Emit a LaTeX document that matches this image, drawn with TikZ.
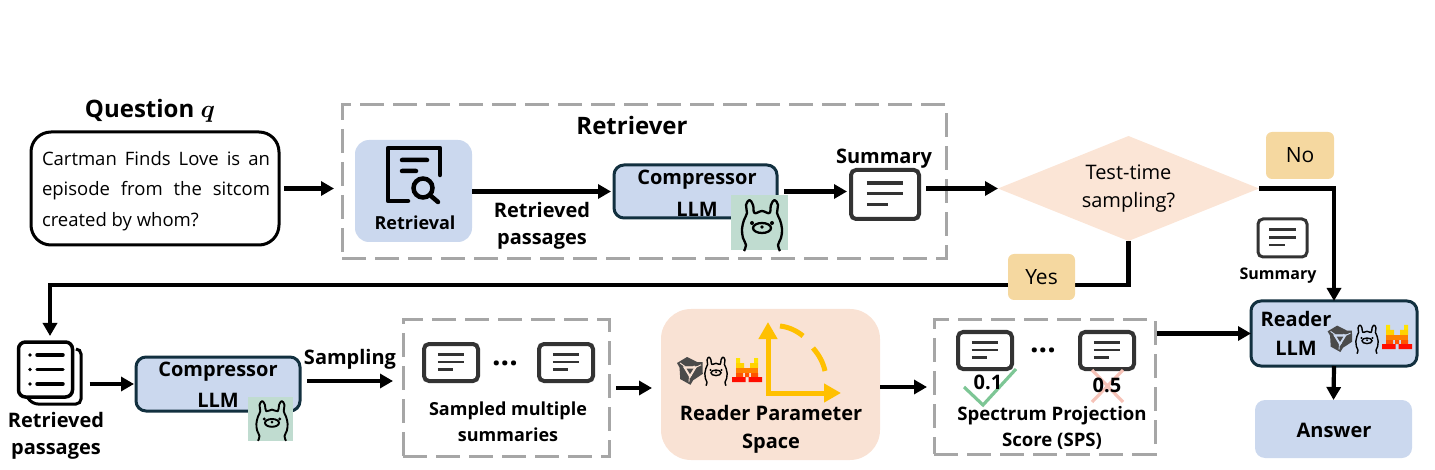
\documentclass[tikz,border=0pt]{standalone}
\usepackage{fontspec}
\setmainfont{Open Sans}
\usetikzlibrary{arrows.meta,shapes.geometric}
\definecolor{bluefill}{HTML}{CBD8EE}
\definecolor{navy}{HTML}{12303F}
\definecolor{dashgray}{HTML}{A6A6A6}
\definecolor{peach}{HTML}{FBE5D6}
\definecolor{spacefill}{HTML}{F9E2D4}
\definecolor{tagfill}{HTML}{F5D8A0}
\definecolor{tilefill}{HTML}{C0DCD0}
\definecolor{axisgold}{HTML}{FFC000}
\definecolor{docgray}{HTML}{333333}
\definecolor{okgreen}{HTML}{7DC695}
\definecolor{nored}{HTML}{F6C3B8}
\definecolor{logogray}{HTML}{4A4A4A}
\tikzset{
  x=1pt,y=-1pt,
  sized/.style 2 args={minimum width=#1pt,minimum height=#2pt,inner sep=0pt,outer sep=0pt},
  arr/.style={line width=4.2pt,draw=black,-{Triangle[length=13pt,width=14pt]}},
  dashbox/.style={draw=dashgray,line width=3pt,dash pattern=on 24pt off 9pt},
  llmbox/.style={draw=navy,line width=3pt,fill=bluefill,rounded corners=10pt},
  softbox/.style={fill=bluefill,rounded corners=14pt},
  tagbox/.style={fill=tagfill,rounded corners=6pt,font=\fontsize{21}{24}\selectfont},
  docbox/.style={draw=docgray,fill=white,line width=4pt,rounded corners=5pt},
  tile/.style={fill=tilefill},
  lab/.style={font=\fontsize{20}{24}\selectfont\bfseries,inner sep=0pt,align=center},
  llamaline/.style={line width=2.3pt},
  llama/.pic={
    \draw[black,llamaline,line join=round]
      plot[smooth,tension=.65] coordinates {(-18,28)(-16,22)(-19,15)(-20,6)(-18,-3)(-15,-10)(-16,-18)(-12.5,-23)(-9,-18)(-7.5,-10)(0,-12)(7.5,-10)(9,-18)(12.5,-23)(16,-18)(15,-10)(18,-3)(20,6)(19,15)(16,22)(18,28)};
    \draw[black,llamaline] (0,5) ellipse (9pt and 5pt);
    \fill (-10,0) circle (2pt) (10,0) circle (2pt) (0,4) circle (1.8pt);
  },
  logocut/.style={spacefill},
  trilogo/.pic={
    \foreach \ang in {0,120,240}{
      \fill[logogray,rotate=\ang] (-13,-7)--(-3,-13)--(7,-8)--(3,-3.5)--(-5,-3.5)--(-8,2)--cycle;
      \draw[logocut,line width=.9pt,rotate=\ang] (-5,-3.5)--(-10,-7);
    }
    \draw[logocut,line width=1.4pt,line join=miter] (-6,-3)--(6,-3)--(0,7)--cycle;
    \fill[logogray] (-3.5,-1.5)--(3.5,-1.5)--(0,4.2)--cycle;
  },
  mistral/.pic={
    \fill[yellow!85!orange] (-11,-12) rectangle (-7,-7) (7,-12) rectangle (11,-7);
    \fill[orange!35!yellow] (-11,-7) rectangle (-3,-2) (3,-7) rectangle (11,-2);
    \fill[orange] (-11,-2) rectangle (11,3);
    \fill[orange!65!red] (-11,3) rectangle (-4,7) (-2,3) rectangle (2,7) (4,3) rectangle (11,7);
    \fill[red!90!orange] (-15,7) rectangle (-1.5,12) (1.5,7) rectangle (15,12);
  },
}
\newcommand{\doclines}[3]{%
  \draw[docgray,line width=#2pt,shift={(#1.center)},scale=#3]
    (-11,-7)--(11,-7) (-11,-.5)--(11,-.5) (-11,6)--(2,6);}
\begin{document}
\begin{tikzpicture}
\useasboundingbox (0,0) rectangle (1435,470);
% ---- top row
\node[lab,font=\fontsize{24}{28}\selectfont\bfseries] (qtitle) at (150,111) {Question {\boldmath$q$}};
\node[sized={248}{113},draw=black,line width=3pt,rounded corners=20pt] (qbox) at (155,188.5) {};
\node[inner sep=0pt,align=left,font=\fontsize{18.5}{30.5}\selectfont] (qtext) at (156,191) {\makebox[228pt][s]{Cartman Finds Love is an}\\\makebox[228pt][s]{episode from the sitcom}\\\makebox[228pt][l]{created by whom?}};
\node[dashbox,sized={604}{154}] (rbox) at (644,182) {};
\node[lab,font=\fontsize{24}{28}\selectfont\bfseries] (rtitle) at (632,126) {Retriever};
\node[softbox,sized={117}{102}] (retrieval) at (413.5,191) {};
\draw[black,line width=4.5pt,line cap=round,line join=round] (440,175)--(440,148)--(388,148)--(388,201)--(408,201);
\draw[black,line width=4.5pt,line cap=round] (402,160)--(427,160) (402,171)--(416,171) (431,196)--(438,202);
\draw[black,line width=4.5pt] (423,188) circle (9.5pt);
\node[lab,font=\fontsize{18}{22}\selectfont\bfseries] (retrlab) at (415,223) {Retrieval};
\node[llmbox,sized={163}{53}] (comp1) at (695.5,191.5) {};
\node[lab] (comp1a) at (697,180) {Compressor};
\node[lab] (comp1b) at (697,209) {LLM};
\node[tile,sized={57}{55}] (tile1) at (759.5,222.5) {};
\pic at (762,223) {llama};
\node[lab] (passlab) at (542,226) {Retrieved\\[3pt]passages};
\node[lab] (sumlab) at (884,159) {Summary};
\node[docbox,sized={68}{49}] (doc1) at (885,194.5) {};
\doclines{doc1}{3.6}{1.65}
\node[diamond,aspect=2.48,fill=peach,sized={261}{105},align=center,font=\fontsize{20}{28}\selectfont] (dec) at (1128.5,188.5) {Test-time\\sampling?};
\node[tagbox,sized={68}{47}] (notag) at (1300,155.5) {No};
\node[docbox,sized={49}{38},line width=3pt] (doc2) at (1282.5,238) {};
\doclines{doc2}{2.4}{1.2}
\node[lab,font=\fontsize{16}{20}\selectfont\bfseries] (sumlab2) at (1278,276) {Summary};
% ---- reader + answer
\node[llmbox,sized={166}{65}] (reader) at (1334,333.5) {};
\node[lab] (readera) at (1296,319) {Reader};
\node[lab] (readerb) at (1296,348) {LLM};
\pic[scale=.95,logocut/.style={bluefill}] at (1340,338) {trilogo};
\pic[scale=.56,llamaline/.style={line width=1.4pt}] at (1367,338) {llama};
\pic[scale=1] at (1397,337) {mistral};
\node[softbox,sized={157}{58},rounded corners=10pt] (answer) at (1333.5,429) {};
\node[lab] (anslab) at (1334,430) {Answer};
% ---- bottom row
\draw[black,line width=3pt,rounded corners=5pt] (76,349)--(81,349)--(81,404)--(33,404)--(27,397);
\node[sized={54}{55},draw=black,fill=white,line width=3.5pt,rounded corners=7pt] (stack) at (45.5,369.5) {};
\draw[black,line width=3.5pt,line cap=round] (37,355)--(63,355) (37,369.5)--(63,369.5) (37,384)--(63,384);
\fill[black] (30,355) circle (1.8pt) (30,369.5) circle (1.8pt) (30,384) circle (1.8pt);
\node[lab] (stacklab) at (56,436) {Retrieved\\[3pt]passages};
\node[llmbox,sized={164}{54}] (comp2) at (218,384) {};
\node[lab] (comp2a) at (218,372) {Compressor};
\node[lab] (comp2b) at (218,400) {LLM};
\node[tile,sized={45}{44}] (tile2) at (270.5,419) {};
\pic[scale=.78,llamaline/.style={line width=1.9pt}] at (272,419) {llama};
\node[lab] (samplab) at (350,359) {Sampling};
\node[dashbox,sized={206}{136}] (d2) at (506,388) {};
\node[docbox,sized={54}{37}] (s1) at (451,362.5) {};
\doclines{s1}{2.8}{1.2}
\node[docbox,sized={54}{37}] (s2) at (566,362.5) {};
\doclines{s2}{2.8}{1.2}
\node[lab,font=\fontsize{30}{30}\selectfont\bfseries] (dots1) at (505,363) {...};
\node[lab,font=\fontsize{18}{26}\selectfont\bfseries] (samptext) at (508,422) {Sampled multiple\\summaries};
\node[fill=spacefill,rounded corners=30pt,sized={219}{151}] (space) at (770.5,384.5) {};
\pic[scale=1] at (690,370) {trilogo};
\pic[scale=.56,llamaline/.style={line width=1.4pt}] at (716,370) {llama};
\pic[scale=1] at (747,370) {mistral};
\coordinate (axo) at (768,393);
\coordinate (axy) at (768,322);
\coordinate (axx) at (841,393);
\draw[axisgold,line width=5pt,line join=miter,{Triangle[length=17pt,width=18pt]}-{Triangle[length=17pt,width=18pt]}] (axy)--(axo)--(axx);
\draw[axisgold,line width=5pt] (780,326) .. controls (789,327) and (797,331) .. (803,336);
\draw[axisgold,line width=5pt] (813,348) .. controls (819,355) and (823,362) .. (825,371);
\node[lab,font=\fontsize{20}{28}\selectfont\bfseries] (spacelab) at (771,429) {Reader Parameter\\Space};
\node[dashbox,sized={221}{134}] (d3) at (1044.5,387) {};
\node[docbox,sized={54}{37}] (p1) at (985,350.5) {};
\doclines{p1}{2.8}{1.2}
\node[docbox,sized={54}{37}] (p2) at (1107,350.5) {};
\doclines{p2}{2.8}{1.2}
\node[lab,font=\fontsize{30}{30}\selectfont\bfseries] (dots2) at (1043,350) {...};
\draw[okgreen,line width=3.2pt] (964,387)--(983,405)--(1016,369);
\draw[nored,line width=3.2pt] (1092,370)--(1123,402) (1123,370)--(1092,402);
\node[lab] (v1) at (988,382) {0.1};
\node[lab] (v2) at (1107,385) {0.5};
\node[lab,font=\fontsize{18.6}{26}\selectfont\bfseries] (spslab) at (1052,428) {Spectrum Projection\\Score (SPS)};
% ---- connectors
\draw[arr,shorten <=5pt,shorten >=8pt] (qbox.east)--(qbox.east -| rbox.west);
\draw[arr,shorten >=3pt] (retrieval.east |- comp1.west)--(comp1.west);
\draw[arr,shorten <=7pt,shorten >=4pt] (comp1.east)--(comp1.east -| doc1.west);
\draw[arr,shorten <=7pt] (doc1.east |- dec.west)--(dec.west);
\draw[arr] (dec.east) -| (reader.north);
\coordinate (stackin) at (50,336);
\coordinate (turn) at (50,285);
\draw[arr] (dec.south) |- (turn) -- (stackin);
\node[tagbox,sized={67}{46}] (yestag) at (1041.5,277) {Yes};
\draw[arr,shorten <=17pt,shorten >=2pt] (stack.east |- comp2.west)--(comp2.west);
\draw[arr,shorten <=7pt,shorten >=10pt] (comp2.east |- 0,381)--(d2.west |- 0,381);
\draw[arr,shorten <=7pt,shorten >=9pt] (d2.east)--(d2.east -| space.west);
\draw[arr,shorten >=7pt] (space.east |- d3.west)--(d3.west);
\draw[arr,shorten <=2pt] (d3.east |- reader.west)--(reader.west);
\draw[arr] (reader.south)--(answer.north);
\end{tikzpicture}
\end{document}
